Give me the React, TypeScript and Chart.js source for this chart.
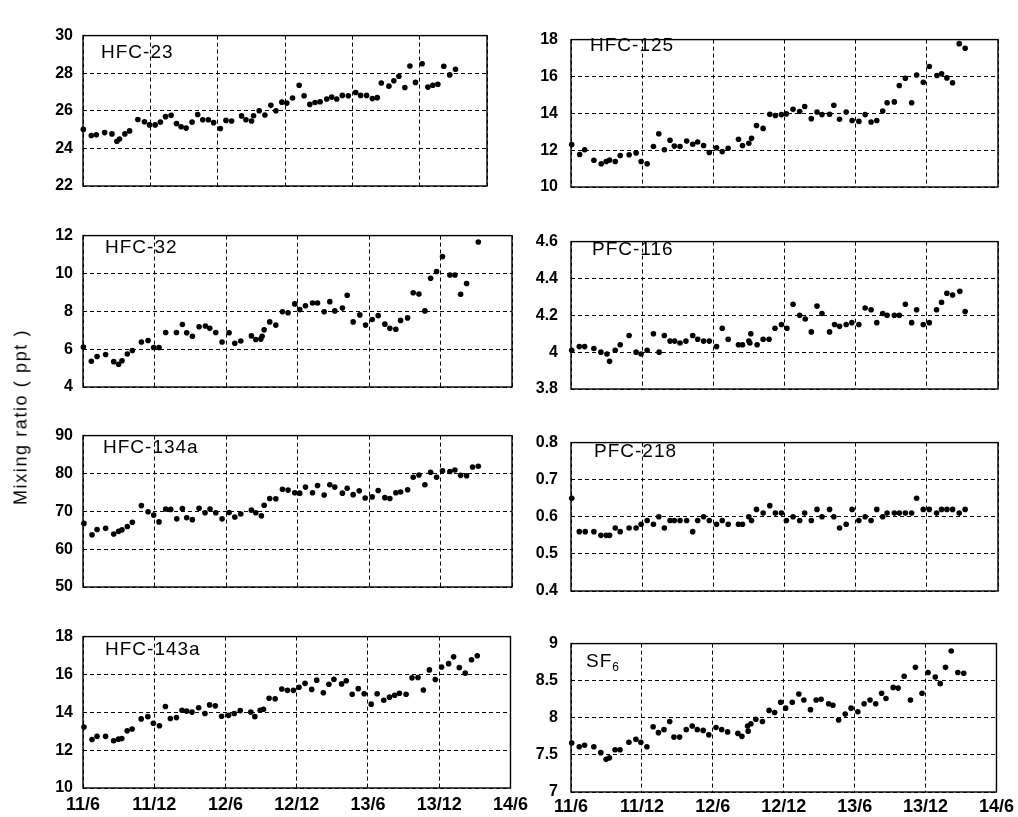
import React, { useEffect, useRef } from "react";
import { Chart, registerables } from "chart.js";

Chart.register(...registerables);

// x values are months since 2011/06
const X_TICKS = [0, 6, 12, 18, 24, 30, 36];
const X_TICK_LABELS = ["11/6", "11/12", "12/6", "12/12", "13/6", "13/12", "14/6"];

const HFC23_TICKS = [22, 24, 26, 28, 30];
const HFC125_TICKS = [10, 12, 14, 16, 18];
const HFC32_TICKS = [4, 6, 8, 10, 12];
const PFC116_TICKS = [3.8, 4, 4.2, 4.4, 4.6];
const HFC134A_TICKS = [50, 60, 70, 80, 90];
const PFC218_TICKS = [0.4, 0.5, 0.6, 0.7, 0.8];
const HFC143A_TICKS = [10, 12, 14, 16, 18];
const SF6_TICKS = [7, 7.5, 8, 8.5, 9];

const HFC23_X = [0.03,0.74,1.19,1.93,2.58,3.02,3.26,3.73,4.15,4.89,5.48,5.93,6.43,6.90,7.35,7.85,8.33,8.74,9.19,9.72,10.22,10.67,11.17,11.64,12.24,12.74,13.24,14.13,14.52,15.02,15.20,15.70,16.21,16.74,17.19,17.72,18.16,18.67,19.26,19.70,20.21,20.68,21.13,21.72,22.16,22.61,23.11,23.64,24.30,24.74,25.27,25.78,26.22,26.58,27.26,27.70,28.15,28.68,29.13,29.63,30.22,30.73,31.17,31.62,32.15,32.68,33.19];
const HFC23_Y = [25.01,24.69,24.72,24.84,24.77,24.38,24.50,24.77,24.93,25.54,25.42,25.25,25.25,25.40,25.69,25.76,25.32,25.15,25.08,25.40,25.80,25.52,25.52,25.37,25.06,25.49,25.46,25.73,25.52,25.46,25.74,26.00,25.78,26.29,26.00,26.46,26.41,26.68,27.36,26.80,26.34,26.44,26.48,26.63,26.73,26.63,26.82,26.80,26.97,26.82,26.82,26.65,26.70,27.48,27.31,27.60,27.84,27.24,28.38,27.51,28.50,27.26,27.36,27.41,28.37,27.91,28.21];

const HFC125_X = [0.06,0.73,1.15,1.93,2.55,2.97,3.25,3.73,4.15,4.90,5.49,5.91,6.42,6.95,7.40,7.87,8.35,8.71,9.19,9.75,10.26,10.68,11.18,11.66,12.27,12.75,13.25,14.12,14.46,14.99,15.22,15.64,16.20,16.76,17.23,17.74,18.16,18.72,19.28,19.70,20.26,20.74,21.16,21.80,22.16,22.64,23.20,23.70,24.27,24.80,25.30,25.78,26.28,26.65,27.26,27.68,28.19,28.72,29.14,29.70,30.21,30.85,31.24,31.69,32.17,32.73,33.23];
const HFC125_Y = [12.30,11.76,12.02,11.45,11.26,11.38,11.46,11.38,11.71,11.75,11.85,11.38,11.26,12.20,12.89,12.02,12.54,12.22,12.20,12.49,12.32,12.44,12.25,11.87,12.13,11.92,12.10,12.59,12.25,12.37,12.64,13.34,13.18,13.95,13.88,13.93,13.97,14.22,14.10,14.37,13.71,14.07,13.93,13.95,14.44,13.68,14.07,13.61,13.56,13.93,13.53,13.61,14.12,14.57,14.62,15.51,15.90,14.57,16.08,15.68,16.54,16.05,16.15,15.92,15.66,17.78,17.53];

const HFC32_X = [0.03,0.70,1.18,1.90,2.58,2.99,3.27,3.72,4.14,4.90,5.46,5.93,6.38,6.94,7.84,8.34,8.70,9.18,9.74,10.27,10.64,11.14,11.67,12.26,12.74,13.24,14.13,14.50,14.92,15.03,15.20,15.67,16.18,16.74,17.21,17.77,18.19,18.67,19.26,19.68,20.24,20.71,21.13,21.77,22.17,22.67,23.23,23.71,24.27,24.77,25.33,25.75,26.25,26.65,27.24,27.71,28.19,28.69,29.17,29.67,30.17,30.79,31.21,31.69,32.19,33.17];
const HFC32_Y = [6.11,5.36,5.61,5.72,5.34,5.20,5.39,5.74,5.93,6.38,6.46,6.09,6.09,6.88,6.88,7.30,6.87,6.68,7.18,7.22,7.10,6.88,6.38,6.87,6.31,6.43,6.70,6.51,6.53,6.68,7.02,7.44,7.27,7.97,7.92,8.39,8.09,8.29,8.44,8.44,7.97,8.51,8.02,8.17,8.85,7.44,7.81,7.27,7.57,7.77,7.32,7.10,7.05,7.52,7.65,8.98,8.91,8.02,9.75,10.10,10.89,9.92,9.92,8.90,9.47,11.66];

const PFC116_X = [0.06,0.70,1.15,1.93,2.52,3.03,3.25,3.73,4.15,4.90,5.49,5.91,6.42,6.95,7.43,7.87,8.35,8.74,9.19,9.69,10.26,10.68,11.18,11.66,12.27,12.75,13.25,14.12,14.46,14.99,15.08,15.16,15.69,16.20,16.70,17.20,17.74,18.21,18.72,19.28,19.75,20.26,20.74,21.16,21.80,22.22,22.64,23.20,23.68,24.27,24.80,25.30,25.78,26.28,26.65,27.26,27.68,28.19,28.72,29.14,29.70,30.21,30.82,31.24,31.69,32.17,32.78,33.23];
const PFC116_Y = [4.01,4.03,4.03,4.02,4.00,3.99,3.95,4.01,4.04,4.09,4.00,3.99,4.01,4.10,4.00,4.09,4.06,4.06,4.05,4.06,4.09,4.07,4.06,4.06,4.03,4.13,4.07,4.04,4.04,4.06,4.05,4.10,4.04,4.07,4.07,4.13,4.15,4.13,4.26,4.20,4.18,4.11,4.25,4.21,4.11,4.15,4.14,4.15,4.16,4.15,4.24,4.23,4.16,4.21,4.20,4.20,4.20,4.26,4.16,4.23,4.15,4.16,4.23,4.27,4.32,4.31,4.33,4.22];

const HFC134A_X = [0.08,0.76,1.18,1.90,2.58,2.99,3.27,3.72,4.14,4.90,5.46,5.93,6.38,6.94,7.36,7.87,8.34,8.70,9.18,9.74,10.24,10.66,11.14,11.67,12.26,12.74,13.24,14.13,14.50,14.97,15.20,15.67,16.18,16.74,17.21,17.77,18.19,18.67,19.26,19.68,20.24,20.71,21.13,21.77,22.17,22.67,23.18,23.68,24.27,24.77,25.33,25.75,26.25,26.65,27.24,27.71,28.19,28.69,29.17,29.67,30.17,30.79,31.21,31.69,32.19,32.69,33.17];
const HFC134A_Y = [66.8,63.8,65.2,65.5,64.0,64.7,65.1,66.0,67.1,71.5,69.9,69.0,67.2,70.6,70.5,68.0,70.7,68.3,67.8,70.8,69.6,70.6,69.6,68.0,69.7,68.5,69.3,70.3,69.6,68.8,71.6,73.4,73.3,75.8,75.6,74.9,74.8,76.4,74.9,76.8,74.3,77.0,76.4,74.8,76.1,74.4,75.4,73.5,73.8,75.5,73.6,73.4,74.9,75.1,75.7,79.0,79.6,77.0,80.3,79.0,80.7,80.5,80.9,79.5,79.4,81.7,81.9];

const PFC218_X = [0.06,0.70,1.20,1.93,2.52,2.97,3.25,3.73,4.15,4.90,5.49,5.91,6.42,6.95,7.40,7.87,8.35,8.71,9.19,9.75,10.26,10.68,11.18,11.66,12.27,12.75,13.25,14.12,14.46,14.99,15.22,15.64,16.20,16.76,17.23,17.74,18.16,18.72,19.28,19.70,20.26,20.74,21.16,21.80,22.16,22.64,23.20,23.70,24.27,24.80,25.30,25.78,26.28,26.65,27.26,27.68,28.19,28.72,29.14,29.70,30.21,30.82,31.24,31.69,32.17,32.73,33.23];
const PFC218_Y = [0.65,0.56,0.56,0.56,0.55,0.55,0.55,0.57,0.56,0.57,0.57,0.58,0.59,0.58,0.60,0.57,0.59,0.59,0.59,0.59,0.56,0.59,0.60,0.59,0.58,0.59,0.58,0.58,0.58,0.60,0.59,0.62,0.61,0.63,0.61,0.61,0.59,0.60,0.59,0.61,0.59,0.62,0.60,0.62,0.60,0.57,0.58,0.62,0.59,0.60,0.59,0.62,0.60,0.61,0.61,0.61,0.61,0.61,0.65,0.62,0.62,0.61,0.62,0.62,0.62,0.61,0.62];

const HFC143A_X = [0.08,0.76,1.18,1.90,2.58,2.99,3.27,3.72,4.14,4.90,5.46,5.93,6.44,6.94,7.36,7.87,8.34,8.73,9.18,9.74,10.27,10.66,11.14,11.67,12.26,12.74,13.24,14.13,14.47,14.92,15.20,15.67,16.18,16.74,17.21,17.72,18.19,18.70,19.26,19.68,20.24,20.71,21.13,21.78,22.17,22.67,23.18,23.68,24.27,24.77,25.33,25.81,26.25,26.65,27.21,27.71,28.21,28.66,29.17,29.67,30.20,30.79,31.21,31.69,32.19,32.72,33.20];
const HFC143A_Y = [13.22,12.56,12.73,12.73,12.50,12.58,12.61,13.02,13.12,13.65,13.77,13.42,13.29,14.31,13.67,13.72,14.11,14.06,14.01,14.24,13.94,14.39,14.34,13.79,13.84,13.94,14.09,14.01,13.77,14.11,14.16,14.74,14.71,15.23,15.16,15.16,15.32,15.53,15.21,15.70,15.03,15.48,15.75,15.50,15.67,14.95,15.25,14.98,14.43,14.98,14.64,14.80,14.90,15.01,14.95,15.82,15.84,15.18,16.24,15.73,16.39,16.57,16.93,16.36,16.07,16.78,16.99];

const SF6_X = [0.06,0.70,1.15,1.93,2.52,2.97,3.25,3.73,4.15,4.90,5.49,5.91,6.42,6.95,7.40,7.87,8.35,8.71,9.19,9.75,10.26,10.68,11.18,11.66,12.27,12.75,13.25,14.12,14.46,14.94,14.99,15.22,15.64,16.20,16.76,17.23,17.74,18.16,18.72,19.28,19.70,20.26,20.74,21.16,21.80,22.16,22.64,23.20,23.70,24.27,24.80,25.30,25.78,26.28,26.65,27.26,27.68,28.19,28.72,29.14,29.70,30.21,30.82,31.24,31.69,32.17,32.73,33.23];
const SF6_Y = [7.66,7.61,7.63,7.61,7.53,7.44,7.46,7.57,7.57,7.67,7.71,7.67,7.61,7.88,7.80,7.84,7.95,7.74,7.74,7.84,7.89,7.84,7.83,7.77,7.87,7.84,7.81,7.79,7.75,7.89,7.82,7.92,7.98,7.95,8.10,8.07,8.21,8.13,8.21,8.32,8.24,8.11,8.24,8.25,8.19,8.17,7.97,8.05,8.13,8.08,8.19,8.24,8.19,8.33,8.26,8.41,8.40,8.56,8.24,8.68,8.33,8.61,8.55,8.46,8.68,8.90,8.61,8.60];

const Y_TITLE = "Mixing ratio ( ppt )";

type PanelSpec = {
  name: string;
  sub?: string;
  xs: number[];
  ys: number[];
  ticks: number[];
  plot: { l: number; t: number; r: number; b: number };
  label: { l: number; t: number };
  right: boolean;
  showX: boolean;
  xPad?: number;
};

const PANELS: PanelSpec[] = [
  { name: "HFC-23", xs: HFC23_X, ys: HFC23_Y, ticks: HFC23_TICKS, plot: { l: 83, t: 28, r: 487, b: 186 }, label: { l: 101, t: 42 }, right: false, showX: false },
  { name: "HFC-125", xs: HFC125_X, ys: HFC125_Y, ticks: HFC125_TICKS, plot: { l: 571, t: 29, r: 998, b: 187 }, label: { l: 590, t: 35 }, right: true, showX: false },
  { name: "HFC-32", xs: HFC32_X, ys: HFC32_Y, ticks: HFC32_TICKS, plot: { l: 83, t: 228, r: 512, b: 387 }, label: { l: 105, t: 237 }, right: false, showX: false },
  { name: "PFC-116", xs: PFC116_X, ys: PFC116_Y, ticks: PFC116_TICKS, plot: { l: 571, t: 231, r: 998, b: 389 }, label: { l: 592, t: 239 }, right: true, showX: false },
  { name: "HFC-134a", xs: HFC134A_X, ys: HFC134A_Y, ticks: HFC134A_TICKS, plot: { l: 83, t: 428, r: 512, b: 587 }, label: { l: 103, t: 437 }, right: false, showX: false },
  { name: "PFC-218", xs: PFC218_X, ys: PFC218_Y, ticks: PFC218_TICKS, plot: { l: 571, t: 432, r: 998, b: 591 }, label: { l: 594, t: 441 }, right: true, showX: false },
  { name: "HFC-143a", xs: HFC143A_X, ys: HFC143A_Y, ticks: HFC143A_TICKS, plot: { l: 83, t: 629, r: 512, b: 788 }, label: { l: 105, t: 639 }, right: false, showX: true, xPad: 6 },
  { name: "SF", sub: "6", xs: SF6_X, ys: SF6_Y, ticks: SF6_TICKS, plot: { l: 571, t: 633, r: 998, b: 792 }, label: { l: 586, t: 651 }, right: true, showX: true, xPad: 4 },
];

const FONT = "'Liberation Sans', Arial, sans-serif";
const LW = 70;
const PT = 12;
const XH = 30;

const framePlugin = {
  id: "frame",
  beforeDatasetsDraw(chart: any) {
    const { ctx, chartArea } = chart;
    const { left, top, right, bottom } = chartArea;
    ctx.save();
    ctx.strokeStyle = "#000";
    ctx.lineWidth = 1.4;
    ctx.strokeRect(left, top, right - left, bottom - top);
    ctx.restore();
  },
};

function Panel({ spec }: { spec: PanelSpec }) {
  const ref = useRef<HTMLCanvasElement | null>(null);
  const PR = spec.right ? 20 : 22;
  const plotW = spec.plot.r - spec.plot.l;
  const plotH = spec.plot.b - spec.plot.t;
  const W = LW + plotW + PR;
  const H = PT + plotH + XH;

  useEffect(() => {
    const canvas = ref.current;
    if (!canvas) return;
    const chart = new Chart(canvas, {
      type: "scatter",
      data: {
        datasets: [
          {
            data: spec.xs.map((x, i) => ({ x, y: spec.ys[i] })),
            pointRadius: 2.8,
            pointHoverRadius: 2.8,
            pointBackgroundColor: "#000",
            pointBorderWidth: 0,
            borderWidth: 0,
            showLine: false,
            clip: false as any,
          },
        ],
      },
      options: {
        animation: false,
        responsive: false,
        events: [],
        layout: { padding: { top: PT, right: PR, left: 0, bottom: 0 } },
        plugins: { legend: { display: false }, tooltip: { enabled: false } },
        scales: {
          x: {
            type: "linear",
            min: X_TICKS[0],
            max: X_TICKS[X_TICKS.length - 1],
            afterBuildTicks: (s: any) => {
              s.ticks = X_TICKS.map((v) => ({ value: v }));
            },
            afterFit: (s: any) => {
              s.height = XH;
            },
            ticks: {
              display: spec.showX,
              autoSkip: false,
              maxRotation: 0,
              padding: spec.xPad ?? 6,
              color: "#000",
              font: { family: FONT, size: 18, weight: "bold" },
              callback: (v: any) => X_TICK_LABELS[X_TICKS.indexOf(Number(v))] ?? "",
            },
            grid: { color: "#000", lineWidth: 1, drawTicks: false },
            border: { display: false, dash: [4, 3] },
          },
          y: {
            type: "linear",
            min: spec.ticks[0],
            max: spec.ticks[spec.ticks.length - 1],
            afterBuildTicks: (s: any) => {
              s.ticks = spec.ticks.map((v) => ({ value: v }));
            },
            afterFit: (s: any) => {
              s.width = LW;
            },
            ticks: {
              autoSkip: false,
              padding: spec.right ? 13 : 10,
              color: "#000",
              font: { family: FONT, size: 16, weight: "bold" },
              callback: (v: any) => String(Number(Number(v).toFixed(3))),
            },
            grid: { color: "#000", lineWidth: 1, drawTicks: false },
            border: { display: false, dash: [4, 3] },
          },
        },
      } as any,
      plugins: [framePlugin],
    });
    return () => chart.destroy();
  }, [spec]);

  return (
    <>
      <canvas
        ref={ref}
        width={W}
        height={H}
        style={{
          position: "absolute",
          left: spec.plot.l - LW,
          top: spec.plot.t - PT,
          width: W,
          height: H,
        }}
      />
      <div
        style={{
          position: "absolute",
          left: spec.label.l,
          top: spec.label.t,
          fontFamily: FONT,
          fontSize: 19,
          lineHeight: "19px",
          letterSpacing: 1,
          color: "#000",
          whiteSpace: "nowrap",
        }}
      >
        {spec.name}
        {spec.sub ? (
          <span style={{ fontSize: 12, position: "relative", top: 4, marginLeft: 0 }}>{spec.sub}</span>
        ) : null}
      </div>
    </>
  );
}

export default function App() {
  return (
    <div
      style={{
        position: "absolute",
        left: 0,
        top: 0,
        width: 1018,
        height: 817,
        overflow: "hidden",
        background: "#fff",
      }}
    >
      {PANELS.map((p) => (
        <Panel key={p.name + (p.sub ?? "")} spec={p} />
      ))}
      <div
        style={{
          position: "absolute",
          left: 21,
          top: 417,
          transform: "translate(-50%, -50%) rotate(-90deg)",
          fontFamily: FONT,
          fontSize: 18,
          letterSpacing: 1.6,
          whiteSpace: "nowrap",
          color: "#000",
        }}
      >
        {Y_TITLE}
      </div>
    </div>
  );
}
